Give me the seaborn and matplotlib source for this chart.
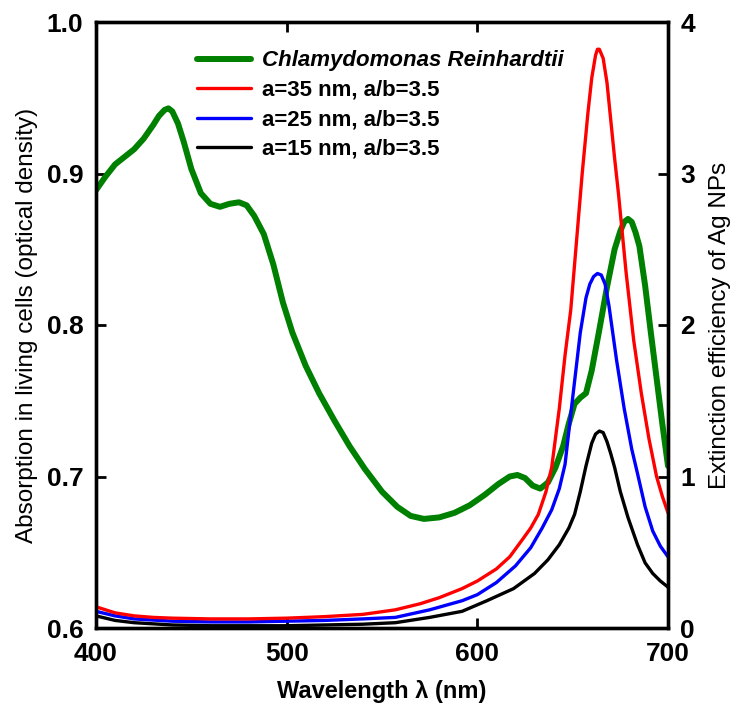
import matplotlib
matplotlib.use("Agg")
import matplotlib.pyplot as plt
import seaborn as sns
import pandas as pd
from matplotlib.lines import Line2D

# ---- data ----
green_wl = [400, 405, 410, 415, 420, 425, 430, 433, 436, 438, 440, 443, 446, 450, 455, 460,
            465, 470, 475, 479, 483, 488, 493, 498, 503, 510, 517, 525, 533, 541, 550, 558,
            565, 572, 580, 588, 596, 604, 611, 617, 621, 625, 629, 633, 637, 641, 645,
            648, 651, 654, 657, 660, 664, 668, 672, 675, 677, 679, 681, 683, 685, 688,
            691, 694, 697, 700]
green_abs = [0.889, 0.898, 0.906, 0.911, 0.916, 0.923, 0.932, 0.938, 0.942, 0.943, 0.941,
             0.933, 0.921, 0.903, 0.887, 0.880, 0.878, 0.880, 0.881, 0.879, 0.872, 0.860,
             0.840, 0.815, 0.795, 0.773, 0.755, 0.737, 0.720, 0.705, 0.690, 0.680, 0.674,
             0.672, 0.673, 0.676, 0.681, 0.688, 0.695, 0.700, 0.701, 0.699, 0.694, 0.692,
             0.696, 0.706, 0.720, 0.735, 0.748, 0.752, 0.755, 0.770, 0.797, 0.825, 0.850,
             0.862, 0.868, 0.870, 0.868, 0.861, 0.852, 0.826, 0.795, 0.765, 0.735, 0.707]

red_wl = [400, 410, 420, 430, 440, 460, 480, 500, 520, 540, 557, 570, 580, 592, 600, 610,
          617, 624, 628, 632, 636, 639, 643, 646, 649, 652, 655, 658, 660, 662, 663, 664,
          666, 668, 670, 672, 674, 678, 682, 686, 690, 694, 697, 700]
red_ext = [0.14, 0.10, 0.08, 0.07, 0.065, 0.06, 0.06, 0.065, 0.075, 0.09, 0.12, 0.16, 0.20,
           0.26, 0.31, 0.39, 0.47, 0.59, 0.66, 0.75, 0.90, 1.06, 1.45, 1.80, 2.10, 2.55,
           3.00, 3.40, 3.63, 3.78, 3.82, 3.82, 3.76, 3.60, 3.35, 3.10, 2.87, 2.35, 1.90,
           1.55, 1.25, 1.00, 0.87, 0.76]

blue_wl = [400, 410, 420, 440, 460, 480, 500, 520, 540, 557, 575, 592, 600, 610, 620, 628,
           634, 639, 643, 646, 650, 654, 657, 659, 661, 663, 665, 667, 669, 671, 673, 677,
           681, 684, 688, 692, 696, 700]
blue_ext = [0.11, 0.08, 0.06, 0.045, 0.04, 0.04, 0.045, 0.05, 0.06, 0.07, 0.12, 0.18, 0.22,
            0.30, 0.41, 0.53, 0.66, 0.78, 0.92, 1.08, 1.52, 1.95, 2.18, 2.27, 2.32, 2.34,
            2.33, 2.27, 2.13, 1.95, 1.77, 1.45, 1.18, 1.02, 0.80, 0.64, 0.54, 0.47]

black_wl = [400, 410, 420, 440, 460, 480, 500, 520, 540, 557, 575, 592, 605, 619, 630, 637,
            643, 648, 651, 654, 657, 660, 662, 664, 666, 668, 670, 672, 675, 679, 684, 688,
            692, 696, 700]
black_ext = [0.08, 0.05, 0.035, 0.02, 0.015, 0.015, 0.015, 0.02, 0.025, 0.035, 0.07, 0.11,
             0.18, 0.26, 0.36, 0.45, 0.55, 0.66, 0.75, 0.90, 1.07, 1.22, 1.28, 1.30, 1.29,
             1.23, 1.15, 1.06, 0.90, 0.73, 0.55, 0.43, 0.36, 0.31, 0.27]

labels = ["Chlamydomonas Reinhardtii", "a=35 nm, a/b=3.5", "a=25 nm, a/b=3.5", "a=15 nm, a/b=3.5"]
x_ticks = [400, 500, 600, 700]
left_ticks = [0.6, 0.7, 0.8, 0.9, 1.0]
right_ticks = [0, 1, 2, 3, 4]

# ---- style ----
sns.set_style("ticks")
plt.rcParams['font.family'] = ['Liberation Sans', 'DejaVu Sans']
plt.rcParams.update({"text.color": "black", "axes.labelcolor": "black",
                     "xtick.color": "black", "ytick.color": "black",
                     "axes.edgecolor": "black"})

fig = plt.figure(figsize=(7.34, 7.05), dpi=100)
ax = fig.add_axes([96/734, 1 - 628/705, (668-96)/734, (628-22)/705])
ax2 = ax.twinx()

dg = pd.DataFrame({"wl": green_wl, "v": green_abs})
dr = pd.DataFrame({"wl": red_wl, "v": red_ext})
db = pd.DataFrame({"wl": blue_wl, "v": blue_ext})
dk = pd.DataFrame({"wl": black_wl, "v": black_ext})

GREEN_LW = 4.3
THIN_LW = 2.4
sns.lineplot(data=dg, x="wl", y="v", ax=ax, color="#008000", lw=GREEN_LW, legend=False)
sns.lineplot(data=dk, x="wl", y="v", ax=ax2, color="black", lw=THIN_LW, legend=False)
sns.lineplot(data=db, x="wl", y="v", ax=ax2, color="#0000ff", lw=THIN_LW, legend=False)
sns.lineplot(data=dr, x="wl", y="v", ax=ax2, color="#ff0000", lw=THIN_LW, legend=False)
for a in (ax, ax2):
    for ln in a.get_lines():
        ln.set_solid_joinstyle("round")

ax.set_xlim(400, 700)
ax.set_ylim(0.6, 1.0)
ax2.set_ylim(0, 4)
ax.set_xticks(x_ticks)
ax.set_xticklabels([str(t) for t in x_ticks])
ax.set_yticks(left_ticks)
ax.set_yticklabels([f"{t:.1f}" for t in left_ticks])
ax2.set_yticks(right_ticks)
ax2.set_yticklabels([str(t) for t in right_ticks])

for lab in ax.get_xticklabels() + ax.get_yticklabels() + ax2.get_yticklabels():
    lab.set_fontsize(19)
    lab.set_fontweight("bold")
    lab.set_color("black")

ax.tick_params(axis="x", direction="in", length=7, width=2, top=True, bottom=True, pad=10)
ax.tick_params(axis="y", direction="in", length=7, width=2, left=True, right=False, pad=9)
ax2.tick_params(axis="y", direction="in", length=7, width=2, right=True, left=False, pad=9)

for a in (ax, ax2):
    for s in a.spines.values():
        s.set_linewidth(2.4)
        s.set_color("black")
        s.set_visible(True)

ax.set_xlabel("Wavelength λ (nm)", fontsize=17, fontweight="bold", labelpad=10)
ax.set_ylabel("Absorption in living cells (optical density)", fontsize=17.5, labelpad=6)
ax2.set_ylabel("Extinction efficiency of Ag NPs", fontsize=17.5, labelpad=10)

# legend
handles = [Line2D([], [], color="#008000", lw=GREEN_LW),
           Line2D([], [], color="#ff0000", lw=THIN_LW),
           Line2D([], [], color="#0000ff", lw=THIN_LW),
           Line2D([], [], color="black", lw=THIN_LW)]
leg = ax2.legend(handles, labels, loc="upper left", bbox_to_anchor=(0.177, 0.953),
                 frameon=False, borderpad=0, borderaxespad=0, handlelength=2.4,
                 handletextpad=0.5, labelspacing=0.38, prop=dict(size=16, weight="bold"))
leg.get_texts()[0].set_fontstyle("italic")

fig.savefig("out.png", dpi=100)
